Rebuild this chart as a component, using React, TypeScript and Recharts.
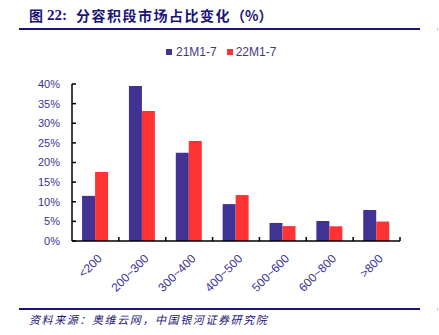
import React from "react";
import { BarChart, Bar, XAxis, YAxis, Legend } from "recharts";

const categories = ["<200", "200~300", "300~400", "400~500", "500~600", "600~800", ">800"];
const series21 = [11.5, 39.5, 22.5, 9.4, 4.6, 5.1, 7.9];
const series22 = [17.6, 33.1, 25.5, 11.7, 3.8, 3.75, 4.95];
const yTicks = [0, 5, 10, 15, 20, 25, 30, 35, 40];
const seriesNames = ["21M1-7", "22M1-7"];

const data = categories.map((c, i) => ({ name: c, a: series21[i], b: series22[i] }));

const NAVY = "#1a1478";
const LABEL = "#3b3394";
const BLUE = "#413394";
const RED = "#ff3333";

const XTick = (props: any) => {
  const { x, y, payload } = props;
  const off = payload && typeof payload.offset === "number" ? payload.offset : 23.4;
  const tx = x + 1;
  const ty = y + 12;
  return (
    <g>
      <line x1={x + off} x2={x + off} y1={y} y2={y - 4} stroke="#000" strokeWidth={1.5} />
      <text
        x={tx}
        y={ty}
        textAnchor="end"
        fill={LABEL}
        fontSize={12}
        fontFamily="'Liberation Sans', Arial, sans-serif"
        transform={`rotate(-45 ${tx} ${ty})`}
        dominantBaseline="hanging"
      >
        {payload.value}
      </text>
    </g>
  );
};

const LegendContent = () => (
  <div
    style={{
      display: "flex",
      alignItems: "center",
      paddingLeft: 166,
      fontFamily: "'Liberation Sans', Arial, sans-serif",
      fontSize: 12,
      color: "#3f3a7c",
    }}
  >
    <span style={{ display: "inline-block", width: 6, height: 6, background: BLUE, marginRight: 4 }} />
    <span style={{ marginRight: 10 }}>{seriesNames[0]}</span>
    <span style={{ display: "inline-block", width: 6, height: 6, background: RED, marginRight: 3 }} />
    <span>{seriesNames[1]}</span>
  </div>
);

const titleBase: React.CSSProperties = {
  position: "absolute",
  top: 5,
  fontWeight: 700,
  fontSize: 14,
  color: NAVY,
  lineHeight: "20px",
  whiteSpace: "nowrap",
};

export default function App() {
  return (
    <div style={{ position: "absolute", left: 0, top: 0, width: 439, height: 335, background: "#fff" }}>
      <div style={{ ...titleBase, left: 29, fontFamily: "'Noto Sans CJK SC', sans-serif" }}>图</div>
      <div style={{ ...titleBase, left: 47, fontFamily: "'Liberation Serif', serif", fontSize: 15 }}>22:</div>
      <div style={{ ...titleBase, left: 76, fontFamily: "'Noto Sans CJK SC', sans-serif" }}>
        <span style={{ letterSpacing: 1.5 }}>分容积段市场占比变化</span>
        <span>（%）</span>
      </div>
      <div style={{ position: "absolute", left: 19, top: 28, width: 401, height: 2, background: NAVY }} />
      <div style={{ position: "absolute", left: 437, top: 28, width: 1, height: 3, background: "#c8c8e0" }} />
      <div style={{ position: "absolute", left: 19, top: 308, width: 401, height: 2, background: NAVY }} />
      <div style={{ position: "absolute", left: 437, top: 308, width: 1, height: 3, background: "#c8c8e0" }} />
      <div
        style={{
          position: "absolute",
          left: 29,
          top: 311,
          fontFamily: "'Noto Sans CJK SC', sans-serif",
          fontStyle: "italic",
          fontSize: 11,
          letterSpacing: 1.6,
          color: NAVY,
          lineHeight: "16px",
          whiteSpace: "nowrap",
        }}
      >
        资料来源：奥维云网，中国银河证券研究院
      </div>
      <div style={{ position: "absolute", left: 0, top: 0 }}>
        <BarChart
          width={439}
          height={335}
          data={data}
          margin={{ top: 84, right: 39, bottom: 34, left: 12 }}
          barCategoryGap="21.5%"
          barGap={0}
        >
          <XAxis
            dataKey="name"
            interval={0}
            tickLine={false}
            tickSize={0}
            tickMargin={0}
            height={60}
            axisLine={{ stroke: "#000", strokeWidth: 1.5 }}
            tick={<XTick />}
          />
          <YAxis
            width={60}
            domain={[0, 40]}
            ticks={yTicks}
            interval={0}
            tickFormatter={(v: number) => `${v}%`}
            tickSize={-4}
            tickMargin={16}
            axisLine={{ stroke: "#000", strokeWidth: 1.5 }}
            tickLine={{ stroke: "#000", strokeWidth: 1.5 }}
            tick={{ fill: LABEL, fontSize: 11, fontFamily: "'Liberation Sans', Arial, sans-serif" }}
          />
          <Legend
            layout="horizontal"
            verticalAlign="middle"
            align="center"
            wrapperStyle={{ top: 45, left: 0, width: 439 }}
            content={<LegendContent />}
          />
          <Bar dataKey="a" name={seriesNames[0]} fill={BLUE} isAnimationActive={false} />
          <Bar dataKey="b" name={seriesNames[1]} fill={RED} isAnimationActive={false} />
        </BarChart>
      </div>
    </div>
  );
}
